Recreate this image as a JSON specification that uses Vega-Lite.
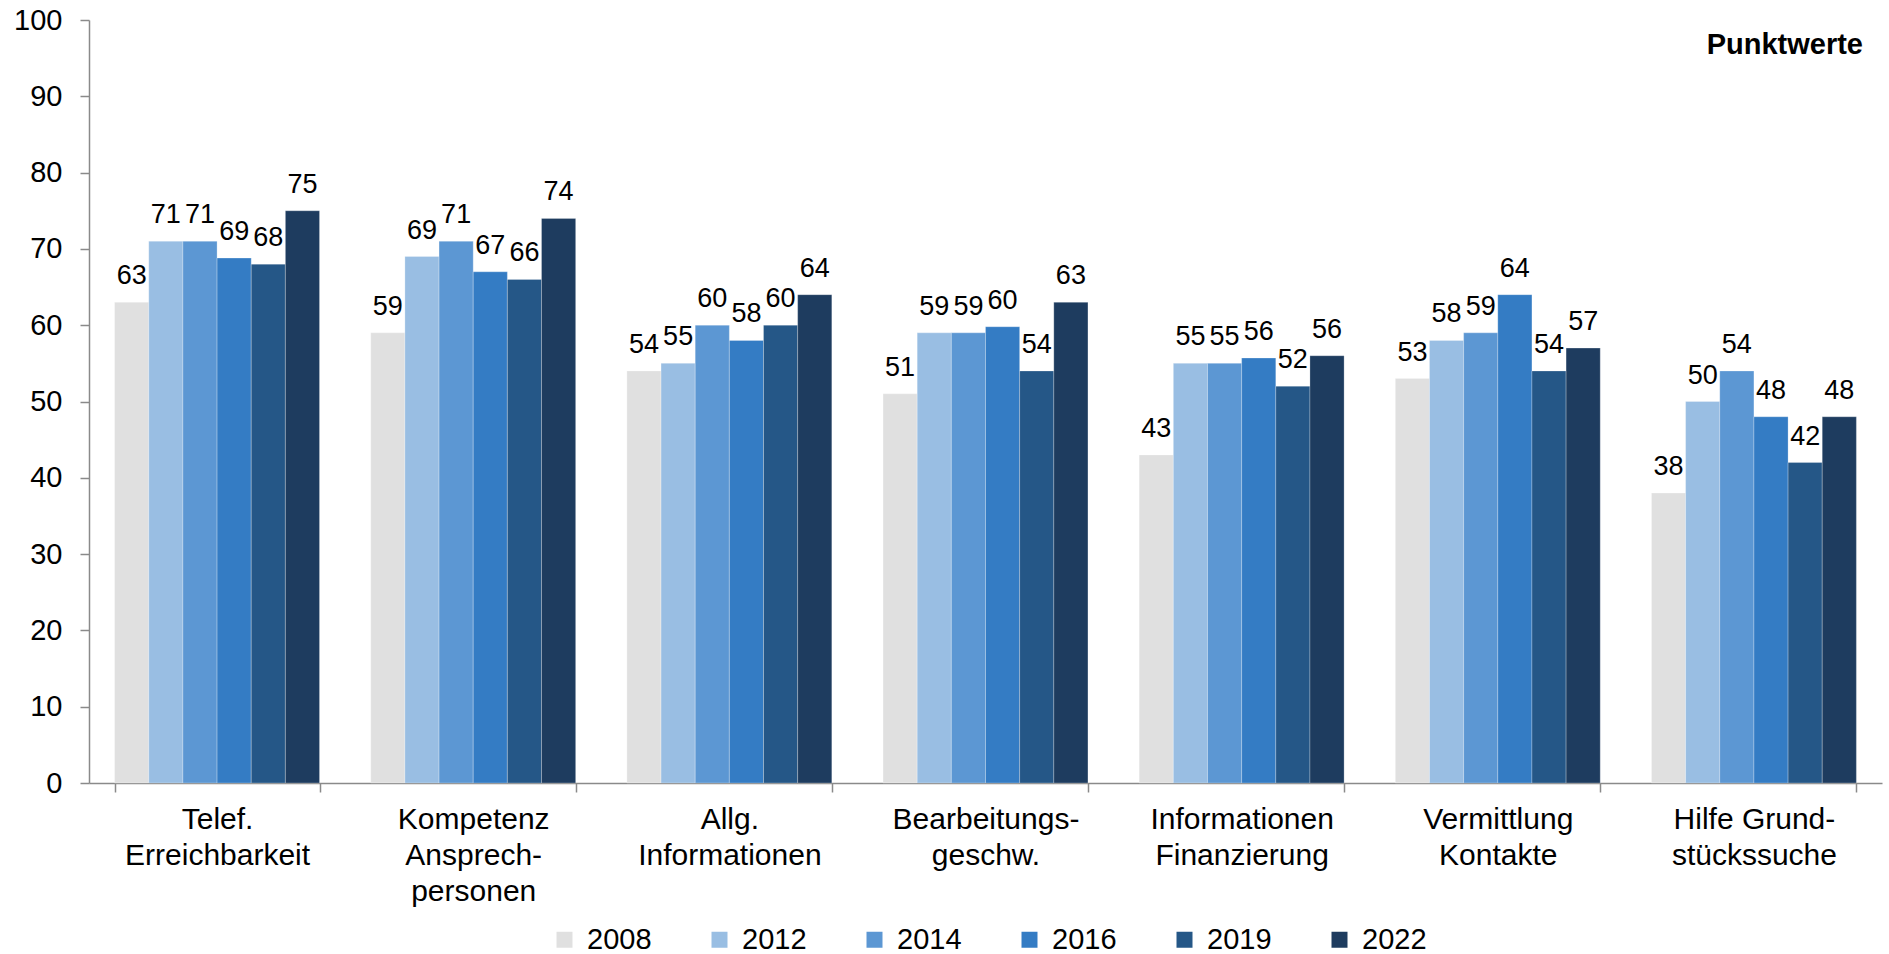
{
  "$schema": "https://vega.github.io/schema/vega-lite/v6.json",
  "autosize": {"type": "none"},
  "width": 1793,
  "height": 763,
  "padding": {"left": 89, "top": 20, "right": 7, "bottom": 171},
  "background": "white",
  "config": {
    "view": {"stroke": null},
    "font": "Liberation Sans",
    "axis": {"labelFont": "Liberation Sans", "labelColor": "black", "domainColor": "#8a8a8a", "tickColor": "#8a8a8a", "domainWidth": 1.5, "tickWidth": 1.5, "grid": false, "tickSize": 9}
  },
  "title": {"text": "Punktwerte", "anchor": "end", "frame": "group", "fontSize": 29, "fontWeight": "bold", "font": "Liberation Sans", "color": "black", "offset": -54, "dx": -19},
  "data": {"values": [
    {"cat": "Telef.|Erreichbarkeit", "year": "2008", "value": 63},
    {"cat": "Telef.|Erreichbarkeit", "year": "2012", "value": 71},
    {"cat": "Telef.|Erreichbarkeit", "year": "2014", "value": 71},
    {"cat": "Telef.|Erreichbarkeit", "year": "2016", "value": 68.8},
    {"cat": "Telef.|Erreichbarkeit", "year": "2019", "value": 68},
    {"cat": "Telef.|Erreichbarkeit", "year": "2022", "value": 75},
    {"cat": "Kompetenz|Ansprech-|personen", "year": "2008", "value": 59},
    {"cat": "Kompetenz|Ansprech-|personen", "year": "2012", "value": 69},
    {"cat": "Kompetenz|Ansprech-|personen", "year": "2014", "value": 71},
    {"cat": "Kompetenz|Ansprech-|personen", "year": "2016", "value": 67},
    {"cat": "Kompetenz|Ansprech-|personen", "year": "2019", "value": 66},
    {"cat": "Kompetenz|Ansprech-|personen", "year": "2022", "value": 74},
    {"cat": "Allg.|Informationen", "year": "2008", "value": 54},
    {"cat": "Allg.|Informationen", "year": "2012", "value": 55},
    {"cat": "Allg.|Informationen", "year": "2014", "value": 60},
    {"cat": "Allg.|Informationen", "year": "2016", "value": 58},
    {"cat": "Allg.|Informationen", "year": "2019", "value": 60},
    {"cat": "Allg.|Informationen", "year": "2022", "value": 64},
    {"cat": "Bearbeitungs-|geschw.", "year": "2008", "value": 51},
    {"cat": "Bearbeitungs-|geschw.", "year": "2012", "value": 59},
    {"cat": "Bearbeitungs-|geschw.", "year": "2014", "value": 59},
    {"cat": "Bearbeitungs-|geschw.", "year": "2016", "value": 59.8},
    {"cat": "Bearbeitungs-|geschw.", "year": "2019", "value": 54},
    {"cat": "Bearbeitungs-|geschw.", "year": "2022", "value": 63},
    {"cat": "Informationen|Finanzierung", "year": "2008", "value": 43},
    {"cat": "Informationen|Finanzierung", "year": "2012", "value": 55},
    {"cat": "Informationen|Finanzierung", "year": "2014", "value": 55},
    {"cat": "Informationen|Finanzierung", "year": "2016", "value": 55.7},
    {"cat": "Informationen|Finanzierung", "year": "2019", "value": 52},
    {"cat": "Informationen|Finanzierung", "year": "2022", "value": 56},
    {"cat": "Vermittlung|Kontakte", "year": "2008", "value": 53},
    {"cat": "Vermittlung|Kontakte", "year": "2012", "value": 58},
    {"cat": "Vermittlung|Kontakte", "year": "2014", "value": 59},
    {"cat": "Vermittlung|Kontakte", "year": "2016", "value": 64},
    {"cat": "Vermittlung|Kontakte", "year": "2019", "value": 54},
    {"cat": "Vermittlung|Kontakte", "year": "2022", "value": 57},
    {"cat": "Hilfe Grund-|stückssuche", "year": "2008", "value": 38},
    {"cat": "Hilfe Grund-|stückssuche", "year": "2012", "value": 50},
    {"cat": "Hilfe Grund-|stückssuche", "year": "2014", "value": 54},
    {"cat": "Hilfe Grund-|stückssuche", "year": "2016", "value": 48},
    {"cat": "Hilfe Grund-|stückssuche", "year": "2019", "value": 42},
    {"cat": "Hilfe Grund-|stückssuche", "year": "2022", "value": 48}
  ]},
  "encoding": {
    "x": {"field": "cat", "type": "nominal", "sort": null,
      "scale": {"paddingInner": 0.2, "paddingOuter": 0.1},
      "axis": {"title": null, "labelAngle": 0, "tickBand": "extent", "labelFontSize": 30, "labelLineHeight": 36, "labelPadding": 12, "labelExpr": "split(datum.label, '|')", "labelLimit": 400}},
    "xOffset": {"field": "year", "type": "nominal"},
    "y": {"field": "value", "type": "quantitative",
      "scale": {"domain": [0, 100], "nice": false},
      "axis": {"title": null, "values": [0, 10, 20, 30, 40, 50, 60, 70, 80, 90, 100], "labelFontSize": 29, "labelPadding": 18}}
  },
  "layer": [
    {"mark": {"type": "bar", "stroke": "white", "strokeWidth": 0.5, "strokeOpacity": 0.5},
     "encoding": {"color": {"field": "year", "type": "nominal",
        "scale": {"domain": ["2008", "2012", "2014", "2016", "2019", "2022"], "range": ["#e0e0e0", "#99bee3", "#5c97d3", "#347cc4", "#255787", "#1e3c5f"]},
        "legend": {"title": null, "orient": "none", "direction": "horizontal", "columns": 6, "legendX": 461, "legendY": 905, "padding": 0,
          "symbolType": "square", "symbolSize": 256, "symbolStrokeWidth": 0, "labelFontSize": 29, "labelFont": "Liberation Sans", "labelColor": "black", "labelOffset": 8, "columnPadding": 53}}}},
    {"mark": {"type": "text", "baseline": "alphabetic", "dy": -18, "fontSize": 27, "color": "black"},
     "encoding": {"text": {"field": "value", "type": "quantitative", "format": ".0f"}}}
  ]
}
